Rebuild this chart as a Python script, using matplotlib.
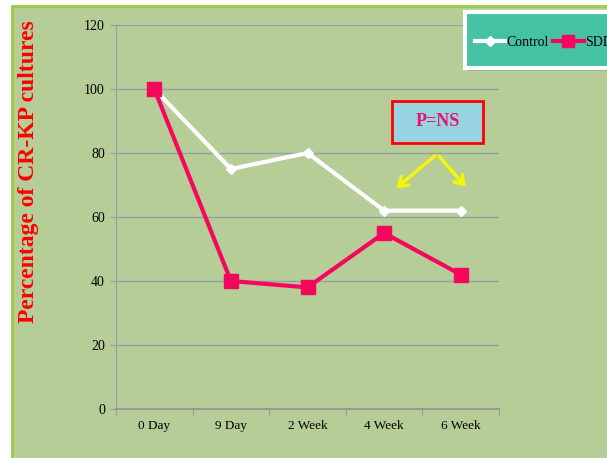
"""
CR-KP culture positivity over time, control vs SDD group.
"""

import matplotlib.pyplot as plt
from matplotlib.patches import Rectangle
from matplotlib.lines import Line2D

timepoints = ["0 Day", "9 Day", "2 Week", "4 Week", "6 Week"]
control = [100, 75, 80, 62, 62]
sdd = [100, 40, 38, 55, 42]

plt.rcParams["font.family"] = ["Liberation Serif", "DejaVu Serif"]

W, H = 607, 458
fig = plt.figure(figsize=(W / 100, H / 100), dpi=100)
fig.patch.set_facecolor("white")

# green chart panel with lime border, runs off the right and bottom edge
panel = Rectangle((12 / W, -0.1), 1, 1.1 - 6 / H, transform=fig.transFigure,
                  facecolor="#b6cd97", edgecolor="#9dcb45", linewidth=2,
                  zorder=-5)
fig.patches.append(panel)

ax = fig.add_axes([116 / W, 49 / H, 383 / W, 384 / H])
ax.set_facecolor("none")

x = range(len(timepoints))
ax.plot(x, control, color="white", linewidth=3, marker="D", markersize=5,
        markerfacecolor="white", markeredgecolor="white", zorder=3,
        label="Control")
ax.plot(x, sdd, color="#f5075e", linewidth=3, marker="s", markersize=10,
        markerfacecolor="#f5075e", markeredgecolor="#f5075e", zorder=4,
        label="SDD")

ax.set_xlim(-0.5, len(timepoints) - 0.5)
ax.set_ylim(0, 120)
ax.set_yticks(range(0, 121, 20))
ax.yaxis.grid(True, color="#8fa2a8", linewidth=1)
ax.set_axisbelow(True)

# category labels sit between the boundary ticks
ax.set_xticks([i - 0.5 for i in range(len(timepoints) + 1)])
ax.set_xticklabels([])
ax.set_xticks(list(x), minor=True)
ax.set_xticklabels(timepoints, minor=True)
ax.tick_params(axis="x", which="major", length=4, color="#999999")
ax.tick_params(axis="x", which="minor", length=0, pad=8, labelsize=9.5)
ax.tick_params(axis="y", length=4, color="#8fa2a8", pad=4, labelsize=10)

for side in ("top", "right"):
    ax.spines[side].set_visible(False)
ax.spines["left"].set_color("#8fa2a8")
ax.spines["bottom"].set_color("#999999")
ax.spines["bottom"].set_linewidth(1.5)

fig.text(29 / W, 1 - 172 / H, "Percentage of CR-KP cultures", rotation=90,
         color="red", fontsize=17, fontweight="bold", ha="center",
         va="center")

# P=NS box with arrows down to the last two points
ax.add_patch(Rectangle((3.10, 83.1), 1.19, 13.1, facecolor="#98d3e2",
                       edgecolor="red", linewidth=2, zorder=5))
ax.text(3.695, 89.7, "P=NS", color="#e8136c", fontsize=13,
        fontweight="bold", ha="center", va="center", zorder=6)
for tx, ty in [(3.13, 68.4), (4.09, 68.8)]:
    ax.annotate("", xy=(tx, ty), xytext=(3.69, 79.7),
                arrowprops=dict(arrowstyle="->,head_length=0.6,head_width=0.4",
                                color="#f5f50a", linewidth=2.5))

# legend box in the top right, clipped by the figure edge
shadow = Rectangle((468 / W, 1 - 71 / H), 200 / W, 56 / H,
                   transform=fig.transFigure, facecolor="#7f8a70",
                   alpha=0.5, edgecolor="none", zorder=1)
box = Rectangle((465 / W, 1 - 68 / H), 200 / W, 56 / H,
                transform=fig.transFigure, facecolor="#45c1a3",
                edgecolor="white", linewidth=3, zorder=2)
fig.patches.extend([shadow, box])

handles = [
    Line2D([], [], color="white", linewidth=3, marker="D", markersize=5),
    Line2D([], [], color="#f5075e", linewidth=3, marker="s", markersize=8),
]
fig.legend(handles, ["Control", "SDD"], loc="center left",
           bbox_to_anchor=(469 / W, 1 - 42 / H), frameon=False, ncol=2,
           fontsize=10, handlelength=2.2, handletextpad=0.1,
           columnspacing=0.3, borderaxespad=0).set_zorder(3)

fig.savefig("out.png", dpi=100, facecolor=fig.get_facecolor())
